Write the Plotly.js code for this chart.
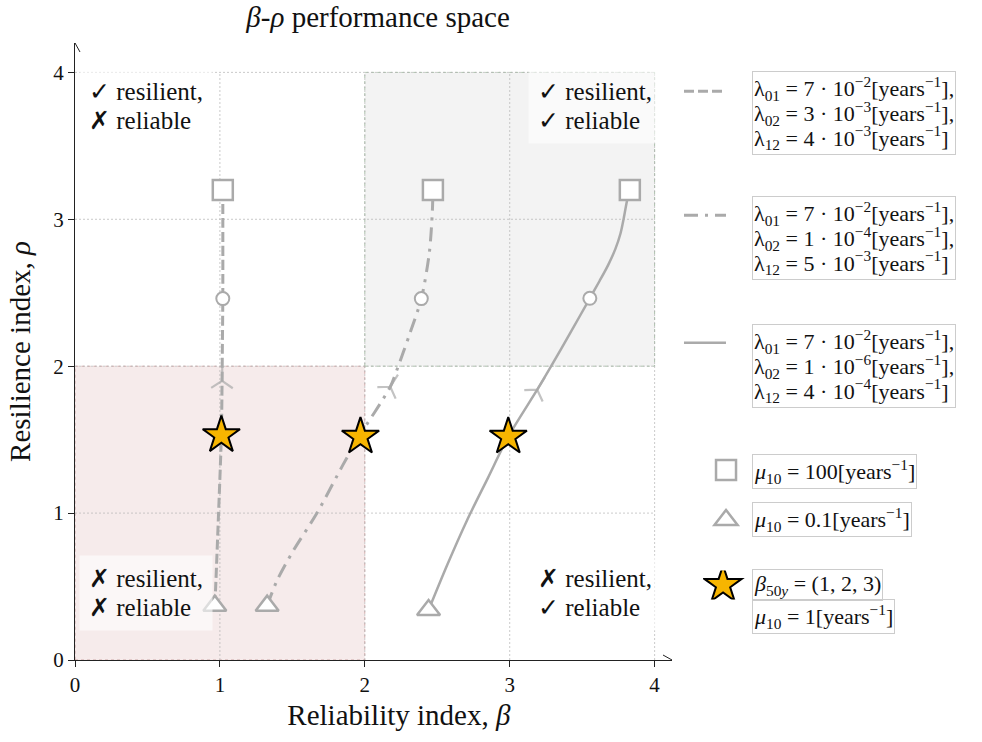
<!DOCTYPE html>
<html>
<head>
<meta charset="utf-8">
<script src="https://cdn.plot.ly/plotly-3.0.1.min.js"></script>
<style>html,body{margin:0;padding:0;background:#fff;}</style>
</head>
<body>
<div id="chart" style="width:982px;height:742px;"></div>
<script>
// ---------------- data ----------------
const tickValues = [0, 1, 2, 3, 4];
const gridValues = [1, 2, 3, 4];

// dashed curve (lambda02 = 3e-3)
const dashedBeta = [0.965, 0.97, 0.99, 1.01, 1.015, 1.017, 1.02, 1.02];
const dashedRho  = [0.37, 0.48, 0.98, 1.53, 1.90, 2.13, 2.46, 3.20];
// dash-dot curve (lambda02 = 1e-4)
const dashdotBeta = [1.326, 1.394, 1.51, 1.67, 1.85, 1.96, 2.176, 2.22, 2.31, 2.39, 2.445, 2.466, 2.47];
const dashdotRho  = [0.37, 0.54, 0.75, 1.00, 1.33, 1.52, 1.86, 1.97, 2.22, 2.46, 2.77, 3.05, 3.20];
// solid curve (lambda02 = 1e-6)
const solidBeta = [2.44, 2.57, 2.705, 2.85, 2.99, 3.19, 3.28, 3.42, 3.553, 3.62, 3.68, 3.73, 3.765, 3.787, 3.806, 3.825];
const solidRho  = [0.34, 0.65, 0.95, 1.24, 1.52, 1.84, 1.99, 2.23, 2.462, 2.58, 2.69, 2.80, 2.905, 3.007, 3.109, 3.20];
// index of the direction arrow on each curve
const arrowIndex = [4, 6, 5];

// mu10 = 100 (squares), mu10 = 0.1 (triangles), mid points (circles), mu10 = 1 (stars)
const squareBeta   = [1.02, 2.47, 3.829];
const squareRho    = [3.20, 3.20, 3.20];
const circleBeta   = [1.02, 2.39, 3.553];
const circleRho    = [2.46, 2.46, 2.462];
const triangleBeta = [0.965, 1.326, 2.44];
const triangleRho  = [0.37, 0.37, 0.34];
const starBeta     = [1.01, 1.97, 2.99];
const starRho      = [1.53, 1.52, 1.52];

const legendTexts = [
  'λ<sub>01</sub> = 7 · 10<sup>−2</sup>[years<sup>−1</sup>],<br>λ<sub>02</sub> = 3 · 10<sup>−3</sup>[years<sup>−1</sup>],<br>λ<sub>12</sub> = 4 · 10<sup>−3</sup>[years<sup>−1</sup>]',
  'λ<sub>01</sub> = 7 · 10<sup>−2</sup>[years<sup>−1</sup>],<br>λ<sub>02</sub> = 1 · 10<sup>−4</sup>[years<sup>−1</sup>],<br>λ<sub>12</sub> = 5 · 10<sup>−3</sup>[years<sup>−1</sup>]',
  'λ<sub>01</sub> = 7 · 10<sup>−2</sup>[years<sup>−1</sup>],<br>λ<sub>02</sub> = 1 · 10<sup>−6</sup>[years<sup>−1</sup>],<br>λ<sub>12</sub> = 4 · 10<sup>−4</sup>[years<sup>−1</sup>]',
  '<i>μ</i><sub>10</sub> = 100[years<sup>−1</sup>]',
  '<i>μ</i><sub>10</sub> = 0.1[years<sup>−1</sup>]',
  '<i>β</i><sub>50<i>y</i></sub> = (1, 2, 3)',
  '<i>μ</i><sub>10</sub> = 1[years<sup>−1</sup>]'
];
const regionTexts = [
  '✓ resilient,<br>✗ reliable',
  '✓ resilient,<br>✓ reliable',
  '✗ resilient,<br>✗ reliable',
  '✗ resilient,<br>✓ reliable'
];

// ---------------- style ----------------
const FONT = 'Liberation Serif, Times New Roman, serif';
const GREY = '#aaaaaa';
const X_MAX = 4.12, Y_MAX = 4.2;

function sized(t, px) { return t.split('<br>').map(s => '<span style="font-size:' + px + 'px">' + s + '</span>').join('<br>'); }

function curve(bx, ry, dash, width, legendId) {
  return {
    x: bx, y: ry, type: 'scatter', mode: 'lines',
    line: {color: GREY, width: width, dash: dash, shape: 'spline', smoothing: 0.8},
    name: ' ', legend: legendId, showlegend: true, hoverinfo: 'skip'
  };
}
function arrow(bx, ry, i) {
  return {
    x: bx.slice(i - 1, i + 1), y: ry.slice(i - 1, i + 1), type: 'scatter', mode: 'markers',
    marker: {symbol: 'y-up', size: [0, 18], angleref: 'previous', angle: 0,
             color: GREY, line: {color: GREY, width: 2.2}},
    showlegend: false, hoverinfo: 'skip'
  };
}

const traces = [
  curve(dashedBeta, dashedRho, '10px,4px', 3, 'legend'),
  curve(dashdotBeta, dashdotRho, '14px,7px,3px,7px', 3, 'legend2'),
  curve(solidBeta, solidRho, 'solid', 2.5, 'legend3'),
  arrow(dashedBeta, dashedRho, arrowIndex[0]),
  arrow(dashdotBeta, dashdotRho, arrowIndex[1]),
  arrow(solidBeta, solidRho, arrowIndex[2]),
  {x: circleBeta, y: circleRho, type: 'scatter', mode: 'markers', showlegend: false,
   marker: {symbol: 'circle', size: 13, color: '#ffffff', line: {color: GREY, width: 2}}},
  {x: squareBeta, y: squareRho, type: 'scatter', mode: 'markers', name: ' ', legend: 'legend4',
   marker: {symbol: 'square', size: 20, color: '#ffffff', line: {color: GREY, width: 2.5}}},
  {x: triangleBeta, y: triangleRho, type: 'scatter', mode: 'markers', name: ' ', legend: 'legend5',
   marker: {symbol: 'triangle-up', size: 20, color: '#ffffff', line: {color: GREY, width: 2.5}}},
  {x: starBeta, y: starRho, type: 'scatter', mode: 'markers', name: ' ', legend: 'legend6',
   marker: {symbol: 'star', size: 28, color: '#f7b500', line: {color: '#000000', width: 2}}}
];

// shapes: shaded regions, grid, axis arrow heads
const shapes = [
  {type: 'rect', xref: 'x', yref: 'y', x0: 0, x1: 2, y0: 0, y1: 2, layer: 'below',
   fillcolor: '#f6ebeb', line: {color: 'rgba(190,140,140,0.7)', width: 1, dash: 'dot'}},
  {type: 'rect', xref: 'x', yref: 'y', x0: 2, x1: 4, y0: 2, y1: 4, layer: 'below',
   fillcolor: '#f3f3f3', line: {color: 'rgba(140,170,140,0.7)', width: 1, dash: 'dot'}}
];
gridValues.forEach(v => {
  shapes.push({type: 'line', xref: 'x', yref: 'y', x0: v, x1: v, y0: 0, y1: 4, layer: 'below',
               line: {color: 'rgba(180,180,180,0.7)', width: 1, dash: '2px,2px'}});
  shapes.push({type: 'line', xref: 'x', yref: 'y', x0: 0, x1: 4, y0: v, y1: v, layer: 'below',
               line: {color: 'rgba(180,180,180,0.7)', width: 1, dash: '2px,2px'}});
});
shapes.push({type: 'path', xref: 'x', yref: 'y', xsizemode: 'pixel', ysizemode: 'pixel',
             xanchor: X_MAX, yanchor: 0, path: 'M-9,5 L0,0 L-9,-5', line: {color: '#222', width: 1}});
shapes.push({type: 'path', xref: 'x', yref: 'y', xsizemode: 'pixel', ysizemode: 'pixel',
             xanchor: 0, yanchor: Y_MAX, path: 'M-5,-9 L0,0 L5,-9', line: {color: '#222', width: 1}});

// annotations
const annotations = [];
const regionPos = [[0.028, 3.77], [3.126, 3.77], [0.028, 0.455], [3.126, 0.455]];
regionTexts.forEach((t, i) => {
  annotations.push({text: sized(t, 25), xref: 'x', yref: 'y', x: regionPos[i][0], y: regionPos[i][1],
    xanchor: 'left', yanchor: 'middle', align: 'left', showarrow: false,
    bgcolor: 'rgba(255,255,255,0.6)', borderpad: 9,
    font: {family: FONT, size: 22, color: '#111'}});
});
const legendTextY = [0.886, 0.684, 0.4765, 0.306, 0.2285, 0.1216, 0.0705];
legendTexts.forEach((t, i) => {
  annotations.push({text: sized(t, 22), xref: 'paper', yref: 'paper', x: 1.134, y: legendTextY[i],
    xanchor: 'left', yanchor: 'middle', align: 'left', showarrow: false,
    bordercolor: '#cccccc', borderwidth: 1, borderpad: 1,
    font: {family: FONT, size: 19, color: '#111'}});
});

function legendAt(x, y) {
  return {x: x, y: y, xref: 'paper', yref: 'paper', xanchor: 'left', yanchor: 'middle',
          bgcolor: 'rgba(0,0,0,0)', borderwidth: 0, font: {size: 10}, itemclick: false, itemdoubleclick: false};
}

const layout = {
  width: 982, height: 742,
  margin: {l: 75, r: 310, t: 43, b: 82},
  paper_bgcolor: '#ffffff', plot_bgcolor: '#ffffff',
  font: {family: FONT, color: '#111'},
  title: {text: '<i>β</i>-<i>ρ</i> performance space', xref: 'container', yref: 'container',
          x: 0.385, xanchor: 'center', y: 0.977, yanchor: 'middle',
          font: {family: FONT, size: 29, color: '#111'}},
  xaxis: {range: [0, X_MAX], tickvals: tickValues, ticktext: tickValues.map(String),
          showgrid: false, zeroline: false, showline: true, linecolor: '#222', linewidth: 1,
          ticks: 'outside', ticklen: 6, tickcolor: '#222', tickfont: {family: FONT, size: 21},
          title: {text: '&nbsp;&nbsp;&nbsp;&nbsp;&nbsp;&nbsp;&nbsp;Reliability index, <i>β</i>',
                  font: {family: FONT, size: 29}, standoff: 8}},
  yaxis: {range: [0, Y_MAX], tickvals: tickValues, ticktext: tickValues.map(String),
          showgrid: false, zeroline: false, showline: true, linecolor: '#222', linewidth: 1,
          ticks: 'outside', ticklen: 6, tickcolor: '#222', tickfont: {family: FONT, size: 21},
          title: {text: 'Resilience index, <i>ρ</i>', font: {family: FONT, size: 29}, standoff: 14}},
  showlegend: true,
  legend: legendAt(1.0117, 0.922),
  legend2: legendAt(1.0117, 0.721),
  legend3: legendAt(1.0117, 0.514),
  legend4: legendAt(1.057, 0.308),
  legend5: legendAt(1.057, 0.227),
  legend6: legendAt(1.052, 0.1216),
  shapes: shapes,
  annotations: annotations
};

Plotly.newPlot('chart', traces, layout, {staticPlot: true, displayModeBar: false}).then(gd => {
  // plotly caps legend keys at 16px and 30px lines: enlarge them to match the figure
  gd.querySelectorAll('g.legendpoints path.scatterpts').forEach(p => {
    const item = p.closest('g.traces');
    if (!item || !item.__data__) return;
    const d = item.__data__;
    const tr = (d[0] && d[0].trace) || (d[0] && d[0][0] && d[0][0].trace);
    if (!tr || !tr.marker || typeof tr.marker.size !== 'number') return;
    const k = tr.marker.size / 16;
    if (k > 1) {
      p.setAttribute('transform', (p.getAttribute('transform') || '') + ' scale(' + k + ')');
      p.style.vectorEffect = 'non-scaling-stroke';
    }
  });
  gd.querySelectorAll('g.legendlines path.js-line').forEach(p => {
    p.setAttribute('d', 'M5,0h42');
  });
});
</script>
</body>
</html>
